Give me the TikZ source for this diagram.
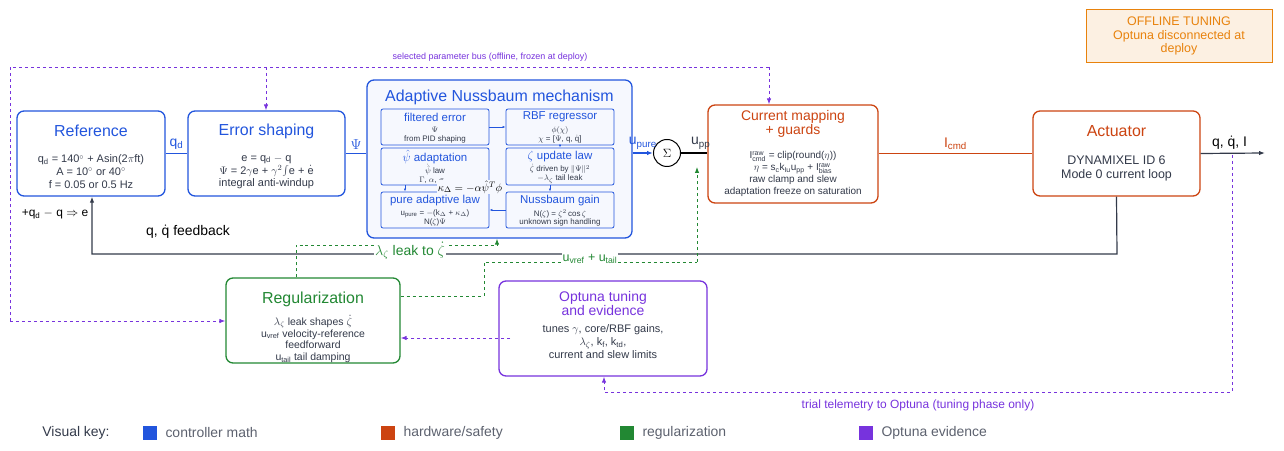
\documentclass[tikz,border=0pt]{standalone}
\usepackage{fontspec}
\setmainfont{Liberation Sans}
\usetikzlibrary{arrows.meta}
\definecolor{cb}{HTML}{2255DD}
\definecolor{co}{HTML}{CC4411}
\definecolor{cg}{HTML}{228833}
\definecolor{cp}{HTML}{7733DD}
\definecolor{cd}{HTML}{333A4A}
\definecolor{oo}{HTML}{E8820C}
\begin{document}
\begin{tikzpicture}[x=1bp,y=-1bp,
 box/.style={draw,rounded corners=7pt,line width=1.3pt,fill=white},
 sub/.style={draw=cb,line width=0.8pt,rounded corners=2pt},
 ttl/.style={font=\fontsize{16}{17}\selectfont,align=center},
 bod/.style={font=\fontsize{11}{13}\selectfont,align=center,text=cd},
 sttl/.style={font=\fontsize{11.5}{12}\selectfont,text=cb,align=center},
 sbod/.style={font=\fontsize{8}{9}\selectfont,text=cd,align=center},
 lab/.style={font=\fontsize{14}{15}\selectfont},
 arr/.style={-{Latex[length=6pt]}},
 sarr/.style={cb,-{Latex[length=3pt]},line width=0.6pt},
 pdash/.style={draw=cp,dashed,line width=0.9pt},
 gdash/.style={draw=cg,dashed,line width=0.9pt}]
\useasboundingbox (0,0) rectangle (1284,451);
% offline tuning
\node[draw=oo,fill=oo!12,minimum width=186bp,minimum height=53bp,line width=0.8pt,align=center,font=\fontsize{12.5}{13.5}\selectfont,text=oo] (off) at (1179,36) {OFFLINE TUNING\\Optuna disconnected at\\deploy};
% boxes
\node[box,draw=cb,minimum width=148bp,minimum height=85bp] (ref) at (91,153.5) {};
\node[ttl,text=cb] at (91,131) {Reference};
\node[bod] at (91,172) {q$_\mathrm{d}$ = 140$^\circ$ + Asin(2$\pi$ft)\\A = 10$^\circ$ or 40$^\circ$\\f = 0.05 or 0.5 Hz};
\node[box,draw=cb,minimum width=157bp,minimum height=85bp] (err) at (266.5,153.5) {};
\node[ttl,text=cb] at (266.5,131) {Error shaping};
\node[bod] at (266.5,172) {e = q$_\mathrm{d}$ $-$ q\\$\Psi$ = 2$\gamma$e + $\gamma^2\!\int$e + $\dot{\mathrm e}$\\integral anti-windup};
\node[box,draw=cb,fill=cb!4,minimum width=265bp,minimum height=158bp] (ada) at (499.5,159) {};
\node[ttl,text=cb] at (499.5,97) {Adaptive Nussbaum mechanism};
% sub boxes
\node[sub,minimum width=108bp,minimum height=36bp] (s1) at (435,127) {};
\node[sttl] at (435,117) {filtered error};
\node[sbod] at (435,135) {$\Psi$\\from PID shaping};
\node[sub,minimum width=108bp,minimum height=36bp] (s2) at (560,127) {};
\node[sttl] at (560,117) {RBF regressor};
\node[sbod] at (560,135) {$\phi(\chi)$\\$\chi$ = [$\Psi$, q, $\dot{\mathrm q}$]};
\node[sub,minimum width=108bp,minimum height=37bp] (s3) at (435,166.5) {};
\node[sttl] at (435,157) {$\hat\psi$ adaptation};
\node[sbod] at (435,174) {$\dot{\hat\psi}$ law\\$\Gamma$, $\alpha$, $\sigma_m$};
\node[sub,minimum width=108bp,minimum height=37bp] (s4) at (560,166.5) {};
\node[sttl] at (560,157) {$\zeta$ update law};
\node[sbod] at (560,174) {$\dot\zeta$ driven by $\|\Psi\|^2$\\$-\lambda_\zeta$ tail leak};
\node[sub,minimum width=108bp,minimum height=36bp] (s5) at (435,210) {};
\node[sttl] at (435,201) {pure adaptive law};
\node[sbod] at (435,218) {u$_\mathrm{pure}$ = $-$(k$_\Delta$ + $\kappa_\Delta$)\\N($\zeta$)$\Psi$};
\node[sub,minimum width=108bp,minimum height=36bp] (s6) at (560,210) {};
\node[sttl] at (560,201) {Nussbaum gain};
\node[sbod] at (560,218) {N($\zeta$) = $\zeta^2\cos\zeta$\\unknown sign handling};
\draw[sarr] (s1.east) -- (s2.west);
\draw[sarr] (s2.south) -- (s4.north);
\draw[sarr] ([xshift=-30bp]s3.south) -- ([xshift=-30bp]s5.north);
\draw[sarr] ([xshift=-10bp]s4.south) -- ([xshift=-10bp]s6.north);
\draw[sarr] (s6.west) -- (s5.east);
\node[font=\fontsize{11}{12}\selectfont,fill=cb!4,inner sep=0.5pt] at (470,187) {$\kappa_\Delta = -\alpha\hat\psi^{T}\phi$};
% sum
\node[draw=black,circle,line width=1pt,minimum size=27bp,inner sep=0pt,fill=white,font=\large] (sum) at (667,153) {$\Sigma$};
\node[box,draw=co,minimum width=170bp,minimum height=98bp] (cur) at (793,154) {};
\node[ttl,text=co,font=\fontsize{14}{14}\selectfont] at (793,124) {Current mapping\\+ guards};
\node[bod,font=\fontsize{10}{12}\selectfont] at (793,174) {I$^\mathrm{raw}_\mathrm{cmd}$ = clip(round($\eta$))\\$\eta$ = s$_\mathrm{c}$k$_\mathrm{Iu}$u$_\mathrm{pp}$ + I$^\mathrm{raw}_\mathrm{bias}$\\raw clamp and slew\\adaptation freeze on saturation};
\node[box,draw=co,minimum width=167bp,minimum height=85bp] (act) at (1116.5,153.5) {};
\node[ttl,text=co] at (1116.5,131) {Actuator};
\node[bod,font=\fontsize{12.5}{14}\selectfont] at (1116.5,168) {DYNAMIXEL ID 6\\Mode 0 current loop};
\node[box,draw=cg,minimum width=174bp,minimum height=85bp] (reg) at (313,320.5) {};
\node[ttl,text=cg] at (313,299) {Regularization};
\node[bod,font=\fontsize{10.5}{12}\selectfont] at (313,339) {$\lambda_\zeta$ leak shapes $\dot\zeta$\\u$_\mathrm{vref}$ velocity-reference\\feedforward\\u$_\mathrm{tail}$ tail damping};
\node[box,draw=cp,minimum width=208bp,minimum height=95bp] (opt) at (603,328.5) {};
\node[ttl,text=cp,font=\fontsize{14}{13}\selectfont] at (603,304) {Optuna tuning\\and evidence};
\node[bod] at (603,342) {tunes $\gamma$, core/RBF gains,\\$\lambda_\zeta$, k$_\mathrm{f}$, k$_\mathrm{td}$,\\current and slew limits};
% main path
\draw[cb,line width=1.2pt] (ref.east) -- node[above,lab,text=cb]{q$_\mathrm{d}$} (err.west);
\draw[cb,line width=1.2pt] (err.east) -- node[above,lab,text=cb]{$\Psi$} (ada.west|-err.east);
\draw[cb,line width=1.2pt,arr] (ada.east|-sum) -- node[above,lab,text=cb]{u$_\mathrm{pure}$} (sum.west);
\draw[black,line width=1.2pt] (sum.east) -- node[above,lab,text=cd,pos=0.75]{u$_\mathrm{pp}$} (cur.west|-sum);
\draw[co,line width=1.2pt] (cur.east|-act) -- node[above,lab,text=co]{I$_\mathrm{cmd}$} (act.west);
\coordinate (out) at (1265,153);
\draw[cd,line width=1.2pt,arr] (act.east) -- node[above,lab,text=black,pos=0.45]{q, $\dot{\mathrm q}$, I} (out);
% feedback
\coordinate (fb1) at (1117,254); \coordinate (fb2) at (92,254);
\draw[cd,line width=1.2pt,arr] (act.south) -- (fb1) -- (fb2) -- (ref.south-|fb2);
\node[lab,text=black] at (188,232) {q, $\dot{\mathrm q}$ feedback};
\node[font=\fontsize{12}{13}\selectfont] at (55,214) {+q$_\mathrm{d}$ $-$ q $\Rightarrow$ e};
% purple bus
\coordinate (b1) at (10,67); \coordinate (b2) at (769,67); \coordinate (b3) at (10,321);
\draw[pdash] (b3) -- (b1) -- (b2);
\draw[pdash,arr] (b3) -- (reg.west|-b3);
\draw[pdash,arr] (266,67) -- (err.north-|266,0);
\draw[pdash,arr] (b2) -- (cur.north-|b2);
\node[text=cp,font=\fontsize{9}{10}\selectfont] at (490,57) {selected parameter bus  (offline, frozen at deploy)};
\draw[pdash,arr] (510,338) -- (reg.east|-0,338);
\coordinate (t1) at (1232,155); \coordinate (t2) at (1232,392); \coordinate (t3) at (604,392);
\draw[pdash,arr] (t1) -- (t2) -- (t3) -- (opt.south-|t3);
\node[text=cp,font=\fontsize{12}{13}\selectfont] at (918,405) {trial telemetry to Optuna  (tuning phase only)};
% green
\coordinate (g1) at (296,245); \coordinate (g2) at (497,245);
\draw[gdash] (reg.north-|g1) -- (g1) -- (g2);
\draw[gdash,arr] (g2) -- (ada.south-|g2);
\node[text=cg,font=\fontsize{14}{15}\selectfont,fill=white,inner sep=1pt] at (410,251) {$\lambda_\zeta$ leak to $\dot\zeta$};
\coordinate (h1) at (484,296); \coordinate (h2) at (484,262); \coordinate (h3) at (697,262);
\draw[gdash] (reg.east|-h1) -- (h1) -- (h2) -- (h3);
\draw[gdash,arr] (h3) -- (sum.south-|h3);
\node[text=cg,font=\fontsize{12.5}{13}\selectfont,fill=white,inner sep=1pt] at (590,259) {u$_\mathrm{vref}$ + u$_\mathrm{tail}$};
% key
\node[font=\fontsize{14}{15}\selectfont,text=cd] at (76,433) {Visual key:};
\foreach \x/\c/\t in {150/cb/{controller math},388/co/{hardware/safety},627/cg/{regularization},866/cp/{Optuna evidence}}{
 \fill[\c] (\x-7,426) rectangle (\x+7,440);
 \node[anchor=west,font=\fontsize{14}{15}\selectfont,text=cd!80] at (\x+12,433) {\t};}
\end{tikzpicture}
\end{document}
